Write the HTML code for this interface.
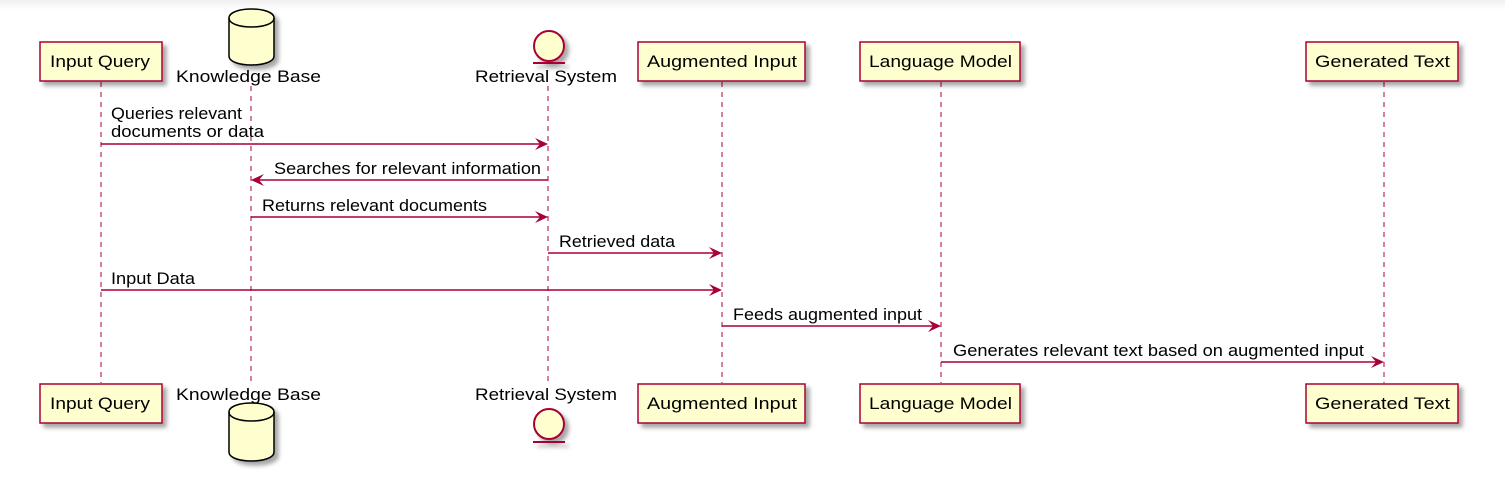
<!DOCTYPE html>
<html><head><meta charset="utf-8"><style>
html,body{margin:0;padding:0;background:#fff;}
svg{display:block;font-family:"Liberation Sans",Arial,sans-serif;}
</style></head><body>
<svg width="1505" height="495" viewBox="0 0 1505 495" xmlns="http://www.w3.org/2000/svg">
<defs>
<linearGradient id="tg" x1="0" y1="0" x2="0" y2="1"><stop offset="0" stop-color="#f0f0f0"/><stop offset="1" stop-color="#fff"/></linearGradient>
<filter id="sh" x="-20%" y="-20%" width="150%" height="150%"><feGaussianBlur in="SourceAlpha" stdDeviation="2"/><feOffset dx="4" dy="4"/><feComponentTransfer><feFuncA type="linear" slope="0.35"/></feComponentTransfer><feMerge><feMergeNode/><feMergeNode in="SourceGraphic"/></feMerge></filter>
</defs>
<rect x="0" y="0" width="1505" height="10" fill="url(#tg)"/>
<g stroke="#A80036" stroke-width="1" stroke-dasharray="5,5" fill="none">
<line x1="101" y1="82" x2="101" y2="383"/>
<line x1="251" y1="86" x2="251" y2="383"/>
<line x1="548" y1="86" x2="548" y2="383"/>
<line x1="722" y1="82" x2="722" y2="383"/>
<line x1="941" y1="82" x2="941" y2="383"/>
<line x1="1384" y1="82" x2="1384" y2="383"/>
</g>
<g fill="#FEFECE" stroke="#A80036" stroke-width="1.5" filter="url(#sh)">
<rect x="40" y="42" width="122" height="39"/>
<rect x="638" y="42" width="167" height="39"/>
<rect x="860" y="42" width="160" height="39"/>
<rect x="1306" y="42" width="152" height="39"/>
<rect x="40" y="384" width="122" height="39"/>
<rect x="638" y="384" width="167" height="39"/>
<rect x="860" y="384" width="160" height="39"/>
<rect x="1306" y="384" width="152" height="39"/>
</g>
<g fill="#FEFECE" stroke="#000" stroke-width="1.5" filter="url(#sh)">
<path d="M229,18 C229,6 274,6 274,18 L274,56 C274,68 229,68 229,56 Z"/>
<path d="M229,18 C229,30 274,30 274,18" fill="none"/>
<path d="M229,412 C229,400 274,400 274,412 L274,452 C274,464 229,464 229,452 Z"/>
<path d="M229,412 C229,424 274,424 274,412" fill="none"/>
</g>
<g fill="#FEFECE" stroke="#A80036" stroke-width="2" filter="url(#sh)">
<circle cx="549" cy="46" r="15"/>
<line x1="533" y1="63" x2="565" y2="63"/>
<circle cx="549" cy="424" r="15"/>
<line x1="533" y1="442" x2="565" y2="442"/>
</g>
<g font-size="17" fill="#000" lengthAdjust="spacingAndGlyphs">
<text x="50" y="67" textLength="100" lengthAdjust="spacingAndGlyphs">Input Query</text>
<text x="647" y="67" textLength="150" lengthAdjust="spacingAndGlyphs">Augmented Input</text>
<text x="869" y="67" textLength="143" lengthAdjust="spacingAndGlyphs">Language Model</text>
<text x="1315" y="67" textLength="135" lengthAdjust="spacingAndGlyphs">Generated Text</text>
<text x="50" y="409" textLength="100" lengthAdjust="spacingAndGlyphs">Input Query</text>
<text x="647" y="409" textLength="150" lengthAdjust="spacingAndGlyphs">Augmented Input</text>
<text x="869" y="409" textLength="143" lengthAdjust="spacingAndGlyphs">Language Model</text>
<text x="1315" y="409" textLength="135" lengthAdjust="spacingAndGlyphs">Generated Text</text>
<text x="176" y="82" textLength="145" lengthAdjust="spacingAndGlyphs">Knowledge Base</text>
<text x="475" y="82" textLength="142" lengthAdjust="spacingAndGlyphs">Retrieval System</text>
<text x="176" y="400" textLength="145" lengthAdjust="spacingAndGlyphs">Knowledge Base</text>
<text x="475" y="400" textLength="142" lengthAdjust="spacingAndGlyphs">Retrieval System</text>
</g>
<g stroke="#A80036" stroke-width="1.5">
<line x1="101" y1="144" x2="544" y2="144"/>
<line x1="255" y1="180" x2="548" y2="180"/>
<line x1="251" y1="217" x2="544" y2="217"/>
<line x1="548" y1="253" x2="718" y2="253"/>
<line x1="101" y1="290" x2="718" y2="290"/>
<line x1="722" y1="326" x2="937" y2="326"/>
<line x1="941" y1="362" x2="1380" y2="362"/>
</g>
<g fill="#A80036">
<polygon points="548,144 535,138 540,144 535,150"/>
<polygon points="251,180 264,174 259,180 264,186"/>
<polygon points="548,217 535,211 540,217 535,223"/>
<polygon points="722,253 709,247 714,253 709,259"/>
<polygon points="722,290 709,284 714,290 709,296"/>
<polygon points="941,326 928,320 933,326 928,332"/>
<polygon points="1384,362 1371,356 1376,362 1371,368"/>
</g>
<g font-size="17" fill="#000">
<text x="111" y="119" textLength="131" lengthAdjust="spacingAndGlyphs">Queries relevant</text>
<text x="111" y="137" textLength="153" lengthAdjust="spacingAndGlyphs">documents or data</text>
<text x="274" y="174" textLength="267" lengthAdjust="spacingAndGlyphs">Searches for relevant information</text>
<text x="262" y="211" textLength="225" lengthAdjust="spacingAndGlyphs">Returns relevant documents</text>
<text x="559" y="247" textLength="116" lengthAdjust="spacingAndGlyphs">Retrieved data</text>
<text x="111" y="284" textLength="84" lengthAdjust="spacingAndGlyphs">Input Data</text>
<text x="733" y="320" textLength="189" lengthAdjust="spacingAndGlyphs">Feeds augmented input</text>
<text x="953" y="356" textLength="411" lengthAdjust="spacingAndGlyphs">Generates relevant text based on augmented input</text>
</g>
</svg>
</body></html>
